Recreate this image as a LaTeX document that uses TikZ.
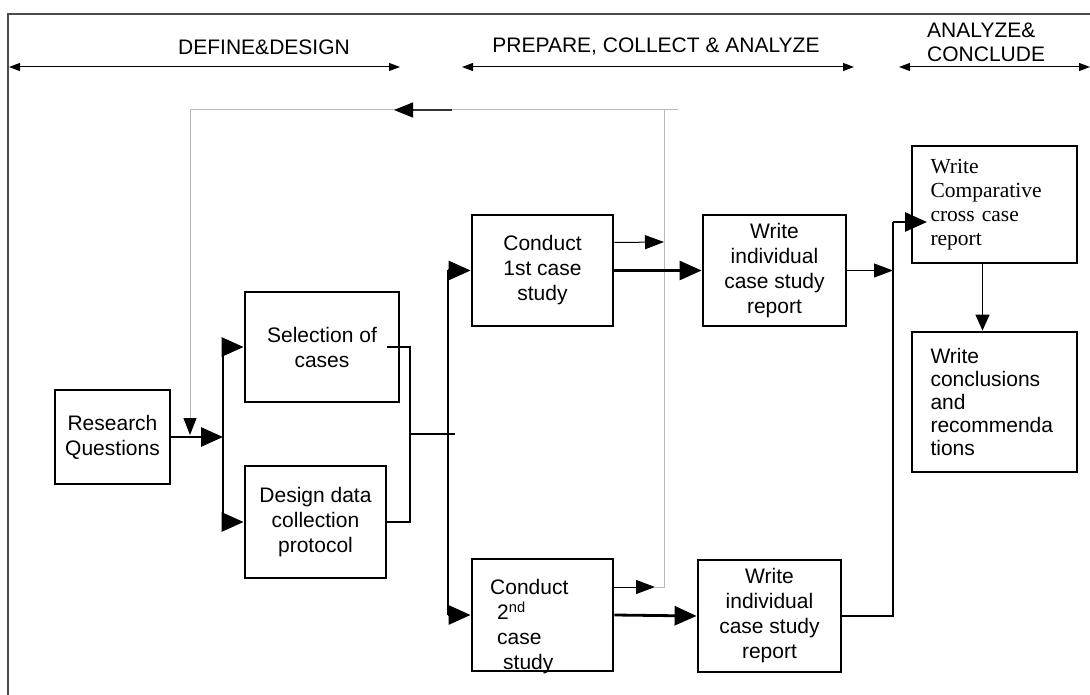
\documentclass[tikz,border=0pt]{standalone}
\usepackage{fontspec}
\setmainfont{Liberation Sans}
\newfontfamily\timesfont{Liberation Serif}
\usetikzlibrary{arrows.meta}

\begin{document}
\begin{tikzpicture}[
        x=1pt, y=-1pt,
        >={Triangle[length=22pt,width=19pt]},
        every node/.style={
          font=\fontsize{21}{25}\selectfont
        },
        stage/.style={
          draw,
          line width=2.8pt,
          inner sep=0pt,
          align=center
        },
        bus/.style={
          line width=2.8pt
        },
        slim/.style={
          line width=1pt,
          -{Triangle[length=19pt,width=14pt]}
        },
        span/.style={
          line width=1pt,
          {Triangle[length=11pt,width=8pt]}-{Triangle[length=11pt,width=8pt]}
        },
        feedback/.style={
          line width=1pt,
          gray!55
        }
      ]
        \useasboundingbox (0,0) rectangle (1090,695);
        \draw[line width=1.2pt,gray!60!black] (8,695) -- (8,14) -- (1090,14);

        % phase headers
        \node (hdd) at (264,47) {DEFINE\&DESIGN};
        \node (hpc) at (656,47) {PREPARE, COLLECT \& ANALYZE};
        \node[anchor=west,align=left,inner sep=0pt,font=\fontsize{21}{24}\selectfont] (hac) at (927,42) {ANALYZE\&\\CONCLUDE};
        \foreach \n/\a/\b in {dd/9/400,pc/462/854,ac/899/1090} {
          \coordinate (\n l) at (\a,67);
          \coordinate (\n r) at (\b,67);
          \draw[span] (\n l) -- (\n r);
        }

        % boxes
        \node[stage,minimum width=115,minimum height=94] (rq) at (112.5,437) {Research\\Questions};
        \node[stage,minimum width=154,minimum height=110] (sel) at (322,347) {Selection of\\cases};
        \node[stage,minimum width=141,minimum height=112] (des) at (315.5,522) {Design data\\collection\\protocol};
        \node[stage,minimum width=141,minimum height=111] (c1) at (542.5,270.5) {Conduct\\1st case\\study};
        \node[stage,minimum width=141,minimum height=112] (c2) at (542.5,615) {};
        \node[anchor=west,align=left,inner sep=0pt] (c2t) at (490,627) {Conduct\\\hspace{7pt}2\textsuperscript{nd}\\\hspace{7pt}case\\\hspace{13pt}study};
        \node[stage,minimum width=143,minimum height=111] (w1) at (774.5,270.5) {Write\\individual\\case study\\report};
        \node[stage,minimum width=143,minimum height=112] (w2) at (769.5,616) {Write\\individual\\case study\\report};
        \node[stage,minimum width=165,minimum height=117,text width=128,align=left,
              font=\timesfont\fontsize{21.5}{24}\selectfont] (cmp) at (994.5,204.5) {Write\\Comparative\\cross case\\report};
        \node[stage,minimum width=165,minimum height=140,text width=128,align=left,
              font=\fontsize{21}{23}\selectfont] (con) at (994.5,402) {Write\\conclusions\\and\\recommenda\\tions};

        % feedback loop
        \coordinate (fbl) at (190,110);
        \coordinate (fbr) at (664,110);
        \coordinate (fbe) at (678,110);
        \coordinate (fbtip) at (190,435);
        \coordinate (fbc2) at (655,587);
        \draw[feedback,-{Triangle[length=17pt,width=13pt,color=black]}] (fbe) -- (fbl) -- (fbtip);
        \draw[feedback] (fbr) -- (fbr |- fbc2) -- (fbc2);
        \coordinate (fbh) at (452,110);
        \coordinate (fbht) at (394,110);
        \draw[line width=1.2pt,gray!40!black,-{Triangle[length=19pt,width=15pt,color=black]}] (fbh) -- (fbht);

        % define & design
        \coordinate (j1) at (223,437);
        \draw[bus,->] (rq.east) -- (j1);
        \draw[bus] (j1 |- sel.west) -- (j1 |- des.west);
        \draw[bus,->] (j1 |- sel.west) -- (sel.west);
        \draw[bus,->] (j1 |- des.west) -- (des.west);
        \coordinate (selo) at (387,347);
        \coordinate (k1) at (410,347);
        \coordinate (k3) at (410,434);
        \coordinate (k4) at (455,434);
        \draw[bus] (selo) -- (k1) -- (k1 |- des.east) -- (des.east);
        \draw[bus] (k3) -- (k4);

        % case studies
        \coordinate (b2) at (448,0);
        \draw[bus] (b2 |- c1.west) -- (b2 |- c2.west);
        \draw[bus,->] (b2 |- c1.west) -- (c1.west);
        \draw[bus,->] (b2 |- c2.west) -- (c2.west);
        \draw[bus,->] (c1.east) -- (w1.west);
        \draw[bus,->] (c2.east) -- (w2.west);
        \draw[slim] ([yshift=28pt]c1.east) -- (fbr |- 0,242);
        \draw[slim] ([yshift=28pt]c2.east) -- (fbc2);

        % cross case
        \coordinate (b3) at (893,0);
        \coordinate (cin) at (927,222);
        \draw[slim] (w1.east) -- (w1.east -| b3);
        \draw[bus] (w2.east) -- (w2.east -| b3) -- (b3 |- cin);
        \draw[bus,->] (b3 |- cin) -- (cin);
        \draw[line width=1.4pt,-{Triangle[length=16pt,width=14pt]}] ([xshift=-12pt]cmp.south) -- ([xshift=-12pt]con.north);
      \end{tikzpicture}
\end{document}
